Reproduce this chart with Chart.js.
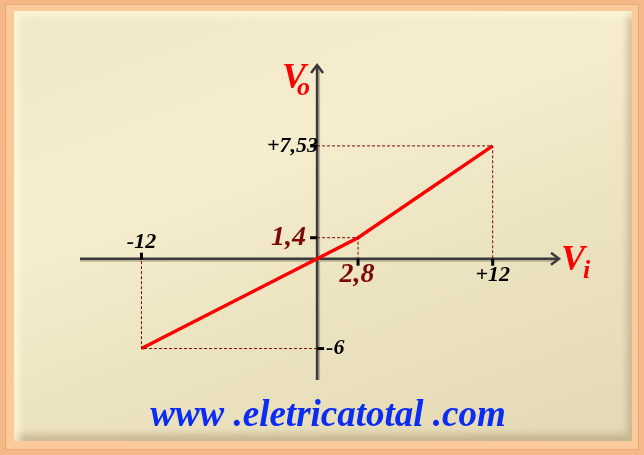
<!DOCTYPE html>
<html>
<head>
<meta charset="utf-8">
<script src="https://cdn.jsdelivr.net/npm/chart.js@4"></script>
<style>
    html, body { margin: 0; padding: 0; }
    body { width: 644px; height: 455px; background: #f5b987; position: relative; overflow: hidden; }
    .frame {
        position: absolute; left: 5px; top: 4px; right: 5px; bottom: 5px;
        background: #fbc99a;
        box-shadow: inset 1px 1px 0 #e9a978, inset -1px -1px 0 #e9a978;
    }
    .panel {
        position: absolute; left: 14px; top: 11px; right: 12px; bottom: 14px;
        background: linear-gradient(160deg, #efe7c6 0%, #f5edcd 35%, #ebe2bf 65%, #e3d9b4 100%);
        box-shadow: inset 6px 6px 6px rgba(255,250,220,0.7), inset -5px -7px 6px rgba(150,120,80,0.35);
    }
    canvas { position: absolute; left: 0; top: 0; }
</style>
</head>
<body>
<div class="frame"></div>
<div class="panel"></div>
<canvas id="chart" width="644" height="455"></canvas>
<script>
// curve points (Vi, Vo)
const viValues = [-12, 0, 2.8, 12];
const voValues = [-6, 0, 1.4, 7.53];

// marked values on the axes
const xTickValues = [-12, 2.8, 12];
const xTickLabels = ['-12', '2,8', '+12'];
const yTickValues = [7.53, 1.4, -6];
const yTickLabels = ['+7,53', '1,4', '-6'];

const siteText = 'www .eletricatotal .com';

const curve = viValues.map((v, i) => ({ x: v, y: voValues[i] }));

// dashed guide lines to the marked points
function guide(px, py) {
    return [{ x: 0, y: py }, { x: px, y: py }, { x: px, y: 0 }];
}
const guideStyle = {
    borderColor: '#7a0a0a',
    borderWidth: 1,
    borderDash: [3, 2],
    pointRadius: 0,
    showLine: true,
    fill: false
};

const serif = '"Liberation Serif", "DejaVu Serif", serif';

const axesPlugin = {
    id: 'axes',
    beforeDatasetsDraw(chart) {
        const ctx = chart.ctx;
        const x = chart.scales.x, y = chart.scales.y;
        const area = chart.chartArea;
        const x0 = x.getPixelForValue(0);
        const y0 = y.getPixelForValue(0);

        ctx.save();
        // shadow line
        ctx.strokeStyle = 'rgba(120,110,90,0.45)';
        ctx.lineWidth = 2;
        ctx.beginPath();
        ctx.moveTo(area.left, y0 + 2); ctx.lineTo(area.right - 4, y0 + 2);
        ctx.moveTo(x0 + 2, area.bottom); ctx.lineTo(x0 + 2, area.top + 4);
        ctx.stroke();

        ctx.strokeStyle = '#3a3a3a';
        ctx.lineWidth = 2.5;
        ctx.beginPath();
        ctx.moveTo(area.left, y0); ctx.lineTo(area.right - 1, y0);
        ctx.moveTo(x0, area.bottom); ctx.lineTo(x0, area.top + 1);
        ctx.stroke();

        // arrow heads
        ctx.beginPath();
        ctx.moveTo(area.right - 9, y0 - 6); ctx.lineTo(area.right - 1, y0); ctx.lineTo(area.right - 9, y0 + 6);
        ctx.moveTo(x0 - 6, area.top + 9); ctx.lineTo(x0, area.top + 1); ctx.lineTo(x0 + 6, area.top + 9);
        ctx.stroke();
        ctx.restore();
    },
    afterDraw(chart) {
        const ctx = chart.ctx;
        const x = chart.scales.x, y = chart.scales.y;
        const area = chart.chartArea;
        const x0 = x.getPixelForValue(0);
        const y0 = y.getPixelForValue(0);

        ctx.save();
        ctx.fillStyle = '#000';
        // tick marks on the x axis
        xTickValues.forEach(v => {
            const px = x.getPixelForValue(v);
            ctx.fillRect(px - 1.5, v < 0 ? y0 - 6 : y0, 3, 7);
        });
        // tick marks on the y axis
        yTickValues.forEach(v => {
            const py = y.getPixelForValue(v);
            ctx.fillRect(v < 0 ? x0 : x0 - 7, py - 1.5, 7, 3);
        });

        ctx.textBaseline = 'middle';
        ctx.textAlign = 'center';
        xTickValues.forEach((v, i) => {
            const px = x.getPixelForValue(v);
            if (v === 2.8) {
                ctx.fillStyle = '#7a0a0a';
                ctx.font = 'italic bold 28px ' + serif;
                ctx.fillText(xTickLabels[i], px - 1, y0 + 16);
            } else {
                ctx.fillStyle = '#000';
                ctx.font = 'italic bold 22px ' + serif;
                ctx.fillText(xTickLabels[i], px, v < 0 ? y0 - 16 : y0 + 17);
            }
        });
        yTickValues.forEach((v, i) => {
            const py = y.getPixelForValue(v);
            if (v === 1.4) {
                ctx.fillStyle = '#7a0a0a';
                ctx.font = 'italic bold 28px ' + serif;
                ctx.textAlign = 'right';
                ctx.fillText(yTickLabels[i], x0 - 11, py);
            } else if (v < 0) {
                ctx.fillStyle = '#000';
                ctx.font = 'italic bold 22px ' + serif;
                ctx.textAlign = 'left';
                ctx.fillText(yTickLabels[i], x0 + 9, py);
            } else {
                ctx.fillStyle = '#000';
                ctx.font = 'italic bold 22px ' + serif;
                ctx.textAlign = 'right';
                ctx.fillText(yTickLabels[i], x0 + 1, py);
            }
        });

        // axis titles
        ctx.fillStyle = '#ff0000';
        ctx.textBaseline = 'alphabetic';
        ctx.textAlign = 'left';
        ctx.font = 'italic bold 36px ' + serif;
        ctx.fillText('V', x0 - 35, area.top + 24);
        ctx.font = 'italic bold 26px ' + serif;
        ctx.fillText('o', x0 - 20, area.top + 31);
        ctx.font = 'italic bold 36px ' + serif;
        ctx.fillText('V', area.right + 1, y0 + 11);
        ctx.font = 'italic bold 26px ' + serif;
        ctx.fillText('i', area.right + 23, y0 + 19);

        // site text
        ctx.fillStyle = '#0a2cf5';
        ctx.textAlign = 'center';
        ctx.font = 'italic bold 37px ' + serif;
        ctx.fillText(siteText, 328, 426);
        ctx.restore();
    }
};

new Chart(document.getElementById('chart'), {
    type: 'scatter',
    data: {
        datasets: [
            Object.assign({ data: guide(12, 7.53) }, guideStyle),
            Object.assign({ data: guide(2.8, 1.4) }, guideStyle),
            Object.assign({ data: guide(-12, -6) }, guideStyle),
            {
                data: curve,
                borderColor: '#ff0000',
                borderWidth: 3.5,
                pointRadius: 0,
                showLine: true,
                fill: false
            }
        ]
    },
    options: {
        responsive: false,
        animation: false,
        events: [],
        layout: { padding: { left: 80, right: 84, top: 64, bottom: 75 } },
        plugins: { legend: { display: false }, tooltip: { enabled: false } },
        scales: {
            x: { type: 'linear', min: -16.2, max: 16.6, display: false },
            y: { type: 'linear', min: -8.1, max: 13, display: false }
        }
    },
    plugins: [axesPlugin]
});
</script>
</body>
</html>
